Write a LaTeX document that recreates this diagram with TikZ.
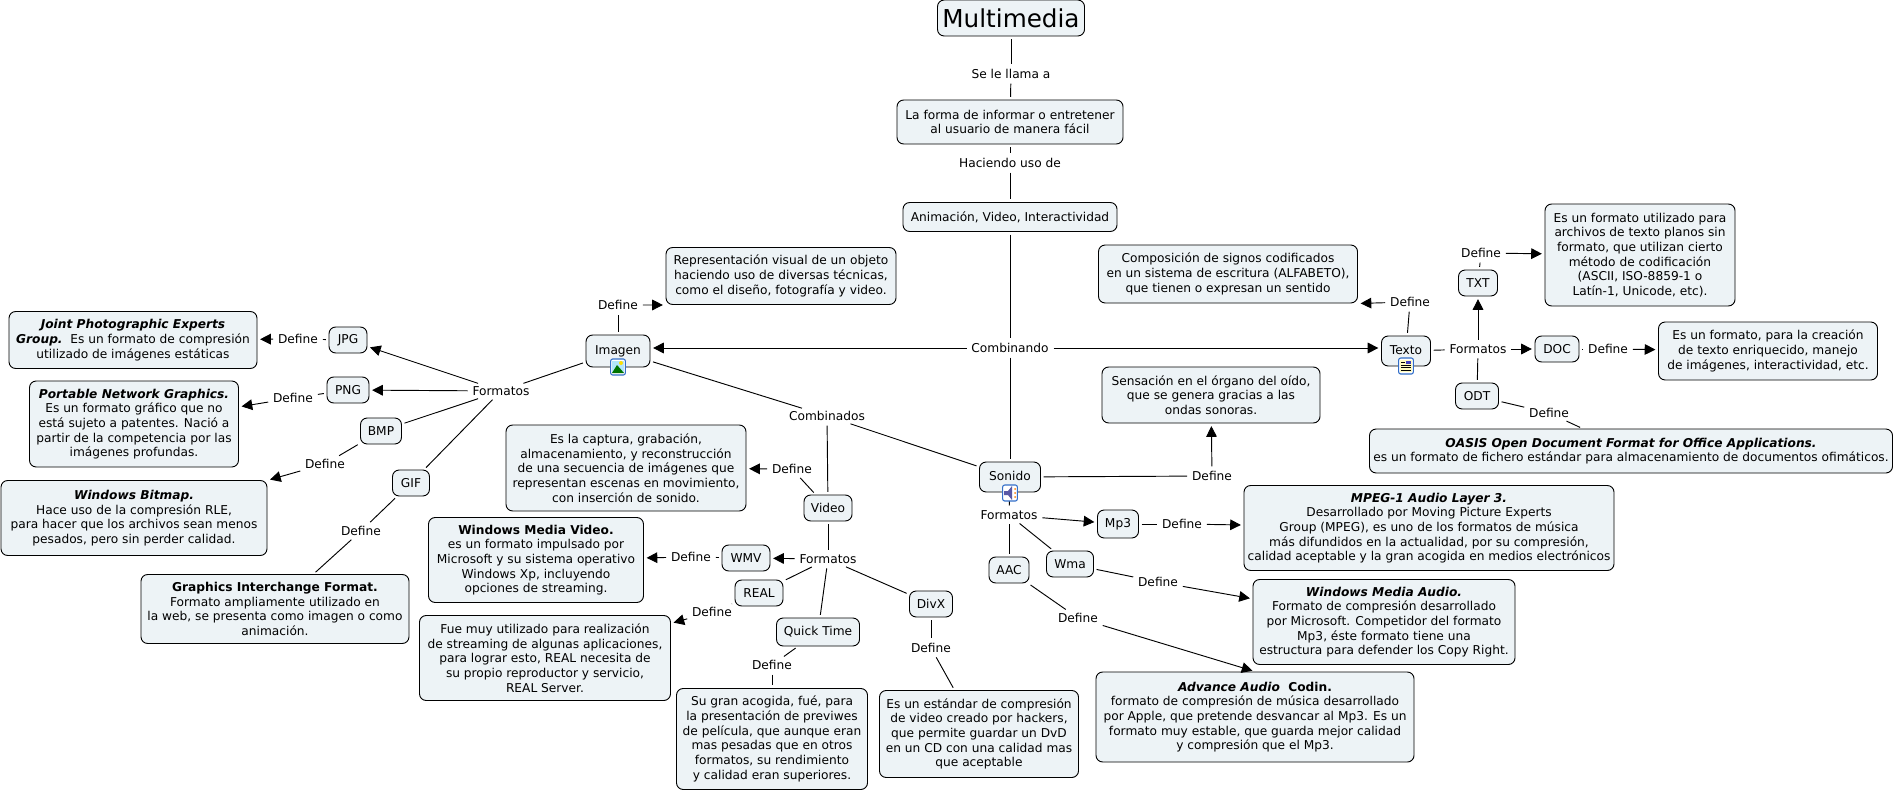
\documentclass[tikz,border=0pt]{standalone}
\usepackage{fontspec}
\setmainfont{DejaVu Sans}
\usetikzlibrary{arrows.meta}
\definecolor{boxfill}{RGB}{237,243,246}
\definecolor{iconblue}{RGB}{50,110,200}
\begin{document}
\begin{tikzpicture}[x=0.75pt, y=-0.75pt, font=\fontsize{9.15}{11}\selectfont,
		base_style/.style={draw=black,fill=boxfill,rounded corners=5pt,align=center,inner sep=1pt,line width=0.7pt},
		sz/.style 2 args={minimum width=#1*0.75pt,minimum height=#2*0.75pt},
		link_style/.style={inner sep=1.5pt,align=center},
		icon_style/.style={draw=iconblue,fill=white,rounded corners=1.5pt,line width=0.8pt,minimum width=11pt,minimum height=12pt,inner sep=0pt},
		edge_style/.style={draw=black,line width=0.7pt,shorten >=2pt,shorten <=2pt},
		arrow_style/.style={edge_style,-{Triangle[length=8pt,width=8pt]}}]
		\useasboundingbox (0,0) rectangle (1895,792);

		\node[base_style,sz={147}{36},font=\fontsize{18.5}{22}\selectfont] (multimedia) at (1011,18) {Multimedia};
		\node[link_style] (l_llama) at (1011,74) {Se le llama a};
		\node[base_style,sz={226}{44}] (forma) at (1010,122) {La forma de informar o entretener\\ al usuario de manera fácil};
		\node[link_style] (l_uso) at (1010,163) {Haciendo uso de};
		\node[base_style,sz={214}{29}] (animacion) at (1010,217) {Animación, Video, Interactividad};
		\node[link_style] (l_comb) at (1010,348) {Combinando};

		\node[base_style,sz={64}{32}] (imagen) at (618,351) {\raisebox{2pt}{Imagen}};
		\node[link_style] (d_imagen) at (618,305) {Define};
		\node[base_style,sz={230}{57}] (repr) at (781,276) {Representación visual de un objeto\\ haciendo uso de diversas técnicas,\\ como el diseño, fotografía y video.};
		\node[link_style] (f_imagen) at (501,391) {Formatos};
		\node[base_style,sz={38}{26}] (jpg) at (348,340) {JPG};
		\node[link_style] (d_jpg) at (298,339) {Define};
		\node[base_style,sz={248}{57}] (b_jpg) at (133,340) {\textbf{\textit{Joint Photographic Experts}}\\ \textbf{\textit{Group.}}\ \ Es un formato de compresión\\ utilizado de imágenes estáticas};
		\node[base_style,sz={42}{26}] (png) at (348,390) {PNG};
		\node[link_style] (d_png) at (293,398) {Define};
		\node[base_style,sz={209}{86}] (b_png) at (134,424) {\textbf{\textit{Portable Network Graphics.}}\\ Es un formato gráfico que no\\ está sujeto a patentes. Nació a\\ partir de la competencia por las\\ imágenes profundas.};
		\node[base_style,sz={41}{26}] (bmp) at (381,431) {BMP};
		\node[link_style] (d_bmp) at (325,464) {Define};
		\node[base_style,sz={266}{75}] (b_bmp) at (134,518) {\textbf{\textit{Windows Bitmap.}}\\ Hace uso de la compresión RLE,\\ para hacer que los archivos sean menos\\ pesados, pero sin perder calidad.};
		\node[base_style,sz={37}{26}] (gif) at (411,483) {GIF};
		\node[link_style] (d_gif) at (361,531) {Define};
		\node[base_style,sz={268}{69}] (b_gif) at (275,609) {\textbf{Graphics Interchange Format.}\\ Formato ampliamente utilizado en\\ la web, se presenta como imagen o como\\ animación.};

		\node[link_style] (l_combi) at (827,416) {Combinados};
		\node[base_style,sz={48}{26}] (video) at (828,508) {Video};
		\node[link_style] (d_video) at (792,469) {Define};
		\node[base_style,sz={240}{86}] (b_video) at (626,468) {Es la captura, grabación,\\ almacenamiento, y reconstrucción\\ de una secuencia de imágenes que\\ representan escenas en movimiento,\\ con inserción de sonido.};
		\node[link_style] (f_video) at (828,559) {Formatos};
		\node[base_style,sz={48}{26}] (wmv) at (746,558) {WMV};
		\node[link_style] (d_wmv) at (691,557) {Define};
		\node[base_style,sz={215}{85}] (b_wmv) at (536,560) {\textbf{Windows Media Video.}\\ es un formato impulsado por\\ Microsoft y su sistema operativo\\ Windows Xp, incluyendo\\ opciones de streaming.};
		\node[base_style,sz={48}{26}] (real) at (759,593) {REAL};
		\node[link_style] (d_real) at (712,612) {Define};
		\node[base_style,sz={251}{85}] (b_real) at (545,658) {Fue muy utilizado para realización\\ de streaming de algunas aplicaciones,\\ para lograr esto, REAL necesita de\\ su propio reproductor y servicio,\\ REAL Server.};
		\node[base_style,sz={83}{28}] (quick) at (818,632) {Quick Time};
		\node[link_style] (d_quick) at (772,665) {Define};
		\node[base_style,sz={191}{101}] (b_quick) at (772,739) {Su gran acogida, fué, para\\ la presentación de previwes\\ de película, que aunque eran\\ mas pesadas que en otros\\ formatos, su rendimiento\\ y calidad eran superiores.};
		\node[base_style,sz={43}{26}] (divx) at (931,604) {DivX};
		\node[link_style] (d_divx) at (931,648) {Define};
		\node[base_style,sz={199}{87}] (b_divx) at (979,734) {Es un estándar de compresión\\ de video creado por hackers,\\ que permite guardar un DvD\\ en un CD con una calidad mas\\ que aceptable};

		\node[base_style,sz={61}{30}] (sonido) at (1010,477) {\raisebox{1pt}{Sonido}};
		\node[link_style] (d_sonido) at (1212,476) {Define};
		\node[base_style,sz={218}{56}] (b_sonido) at (1211,395) {Sensación en el órgano del oído,\\ que se genera gracias a las\\ ondas sonoras.};
		\node[link_style] (f_sonido) at (1009,515) {Formatos};
		\node[base_style,sz={41}{28}] (mp3) at (1118,524) {Mp3};
		\node[link_style] (d_mp3) at (1182,524) {Define};
		\node[base_style,sz={370}{85}] (b_mp3) at (1429,528) {\textbf{\textit{MPEG-1 Audio Layer 3.}}\\ Desarrollado por Moving Picture Experts\\ Group (MPEG), es uno de los formatos de música\\ más difundidos en la actualidad, por su compresión,\\ calidad aceptable y la gran acogida en medios electrónicos};
		\node[base_style,sz={47}{26}] (wma) at (1070,564) {Wma};
		\node[link_style] (d_wma) at (1158,582) {Define};
		\node[base_style,sz={262}{85}] (b_wma) at (1384,622) {\textbf{\textit{Windows Media Audio.}}\\ Formato de compresión desarrollado\\ por Microsoft. Competidor del formato\\ Mp3, éste formato tiene una\\ estructura para defender los Copy Right.};
		\node[base_style,sz={40}{26}] (aac) at (1009,570) {AAC};
		\node[link_style] (d_aac) at (1078,618) {Define};
		\node[base_style,sz={318}{90}] (b_aac) at (1255,717) {\textbf{\textit{Advance Audio}\ \ Codin.}\\ formato de compresión de música desarrollado\\ por Apple, que pretende desvancar al Mp3. Es un\\ formato muy estable, que guarda mejor calidad\\ y compresión que el Mp3.};

		\node[base_style,sz={49}{30}] (texto) at (1406,351) {\raisebox{2pt}{Texto}};
		\node[link_style] (d_texto) at (1410,302) {Define};
		\node[base_style,sz={259}{58}] (b_texto) at (1228,274) {Composición de signos codificados\\ en un sistema de escritura (ALFABETO),\\ que tienen o expresan un sentido};
		\node[link_style] (f_texto) at (1478,349) {Formatos};
		\node[base_style,sz={39}{26}] (txt) at (1478,283) {TXT};
		\node[link_style] (d_txt) at (1481,253) {Define};
		\node[base_style,sz={190}{102}] (b_txt) at (1640,255) {Es un formato utilizado para\\ archivos de texto planos sin\\ formato, que utilizan cierto\\ método de codificación\\ (ASCII, ISO-8859-1 o\\ Latín-1, Unicode, etc).};
		\node[base_style,sz={44}{26}] (doc) at (1557,349) {DOC};
		\node[link_style] (d_doc) at (1608,349) {Define};
		\node[base_style,sz={219}{58}] (b_doc) at (1768,351) {Es un formato, para la creación\\ de texto enriquecido, manejo\\ de imágenes, interactividad, etc.};
		\node[base_style,sz={43}{26}] (odt) at (1477,396) {ODT};
		\node[link_style] (d_odt) at (1549,413) {Define};
		\node[base_style,sz={523}{44}] (b_odt) at (1631,451) {\textbf{\textit{OASIS Open Document Format for Office Applications.}}\\ es un formato de fichero estándar para almacenamiento de documentos ofimáticos.};

		\draw[edge_style]  (multimedia) edge (l_llama);
		\draw[edge_style]  (l_llama) edge (forma);
		\draw[edge_style]  (forma) edge (l_uso);
		\draw[edge_style]  (l_uso) edge (animacion);
		\draw[edge_style]  (animacion) edge (l_comb);
		\draw[edge_style]  (l_comb) edge (sonido);
		\draw[arrow_style]  (l_comb) edge (imagen.east |- l_comb);
		\draw[arrow_style]  (l_comb) edge (texto.west |- l_comb);

		\draw[edge_style]  (imagen) edge (d_imagen);
		\draw[arrow_style]  (d_imagen) edge (repr.south west);
		\draw[edge_style]  (imagen) edge (f_imagen);
		\draw[arrow_style]  (f_imagen) edge (jpg);
		\draw[arrow_style]  (f_imagen) edge (png);
		\draw[edge_style]  (f_imagen) edge (bmp);
		\draw[edge_style]  (f_imagen) edge (gif);
		\draw[edge_style]  (jpg) edge (d_jpg);
		\draw[arrow_style]  (d_jpg) edge (b_jpg);
		\draw[edge_style]  (png) edge (d_png);
		\draw[arrow_style]  (d_png) edge (b_png);
		\draw[edge_style]  (bmp) edge (d_bmp);
		\draw[arrow_style]  (d_bmp) edge (b_bmp);
		\draw[edge_style]  (gif) edge (d_gif);
		\draw[edge_style]  (d_gif) edge (b_gif);

		\draw[edge_style]  (imagen) edge (l_combi);
		\draw[edge_style]  (l_combi) edge (sonido);
		\draw[edge_style]  (l_combi) edge (video);
		\draw[edge_style]  (video) edge (d_video);
		\draw[arrow_style]  (d_video) edge (b_video);
		\draw[edge_style]  (video) edge (f_video);
		\draw[arrow_style]  (f_video) edge (wmv);
		\draw[edge_style]  (f_video) edge (real);
		\draw[edge_style]  (f_video) edge (quick);
		\draw[edge_style]  (f_video) edge (divx);
		\draw[edge_style]  (wmv) edge (d_wmv);
		\draw[arrow_style]  (d_wmv) edge (b_wmv);
		\draw[edge_style]  (real) edge (d_real);
		\draw[arrow_style]  (d_real) edge (b_real);
		\draw[edge_style]  (quick) edge (d_quick);
		\draw[edge_style]  (d_quick) edge (b_quick);
		\draw[edge_style]  (divx) edge (d_divx);
		\draw[edge_style]  (d_divx) edge (b_divx);

		\draw[edge_style]  (sonido) edge (d_sonido);
		\draw[arrow_style]  (d_sonido) edge (b_sonido);
		\draw[edge_style]  (sonido) edge (f_sonido);
		\draw[arrow_style]  (f_sonido) edge (mp3);
		\draw[edge_style]  (f_sonido) edge (wma);
		\draw[edge_style]  (f_sonido) edge (aac);
		\draw[edge_style]  (mp3) edge (d_mp3);
		\draw[arrow_style]  (d_mp3) edge (b_mp3);
		\draw[edge_style]  (wma) edge (d_wma);
		\draw[arrow_style]  (d_wma) edge (b_wma);
		\draw[edge_style]  (aac) edge (d_aac);
		\draw[arrow_style]  (d_aac) edge (b_aac.north);

		\draw[edge_style]  (texto) edge (d_texto);
		\draw[arrow_style]  (d_texto) edge (b_texto.south east);
		\draw[edge_style]  (texto) edge (f_texto);
		\draw[arrow_style]  (f_texto) edge (txt);
		\draw[arrow_style]  (f_texto) edge (doc);
		\draw[edge_style]  (f_texto) edge (odt);
		\draw[edge_style]  (txt) edge (d_txt);
		\draw[arrow_style]  (d_txt) edge (b_txt);
		\draw[edge_style]  (doc) edge (d_doc);
		\draw[arrow_style]  (d_doc) edge (b_doc);
		\draw[edge_style]  (odt) edge (d_odt);
		\draw[edge_style]  (d_odt) edge (b_odt);

		\node[icon_style] (i_imagen) at (618,367) {};
		\fill[cyan!30] (612,361) rectangle (624,373);
		\fill[green!45!black] (612,373) -- (617,365) -- (624,373) -- cycle;
		\fill[yellow!80!orange] (621,363) circle (2);

		\node[icon_style] (i_sonido) at (1010,493) {};
		\fill[blue!30!gray] (1004,491) -- (1008,491) -- (1012,486) -- (1012,500) -- (1008,495) -- (1004,495) -- cycle;
		\foreach \yy in {489,493,497}
			\fill[orange] (1015,\yy) circle (1);

		\node[icon_style] (i_texto) at (1406,366) {};
		\fill[yellow!25] (1400,360) rectangle (1412,372);
		\foreach \yy in {365,367.5,370}
			\draw[black,line width=0.6pt] (1401,\yy) -- (1411,\yy);
		\draw[black,line width=0.6pt] (1401,362.5) -- (1405,362.5);
		\fill[blue!50!gray] (1406,360.5) rectangle (1411,364);

		\end{tikzpicture}
\end{document}
